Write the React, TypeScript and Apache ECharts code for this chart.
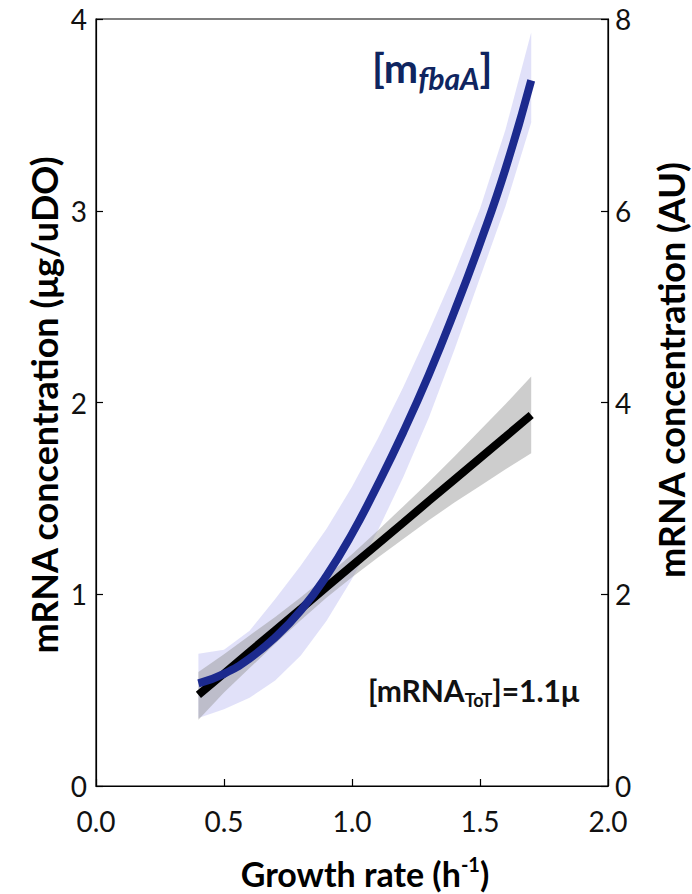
import React, { useEffect, useRef } from "react";
import * as echarts from "echarts";

// Growth rate (h^-1) sample points
const growthRate = [0.4, 0.5, 0.6, 0.7, 0.8, 0.9, 1.0, 1.1, 1.2, 1.3, 1.4, 1.5, 1.6, 1.7];

// Total mRNA (left axis, µg/uDO): fit and confidence band
const totalFit = [0.475, 0.587, 0.7, 0.812, 0.924, 1.037, 1.149, 1.261, 1.373, 1.486, 1.598, 1.71, 1.822, 1.935];
const totalLower = [0.345, 0.487, 0.615, 0.742, 0.864, 0.982, 1.089, 1.191, 1.288, 1.386, 1.478, 1.565, 1.652, 1.735];
const totalUpper = [0.595, 0.687, 0.785, 0.882, 0.984, 1.092, 1.209, 1.331, 1.458, 1.586, 1.718, 1.855, 1.992, 2.135];

// m_fbaA (right axis, AU): fit and confidence band
const fbaFit = [1.07, 1.17, 1.33, 1.55, 1.83, 2.19, 2.63, 3.14, 3.69, 4.29, 4.95, 5.66, 6.44, 7.36];
const fbaLower = [0.71, 0.8, 0.92, 1.1, 1.36, 1.72, 2.16, 2.66, 3.22, 3.84, 4.55, 5.3, 6.05, 6.92];
const fbaUpper = [1.38, 1.42, 1.62, 1.95, 2.3, 2.68, 3.12, 3.62, 4.16, 4.74, 5.35, 6.02, 6.85, 7.86];

// Tick labels
const xTickLabels = ["0.0", "0.5", "1.0", "1.5", "2.0"];
const leftTickLabels = ["0", "1", "2", "3", "4"];
const rightTickLabels = ["0", "2", "4", "6", "8"];

const FONT = "Lato, 'Open Sans', sans-serif";

function bandSeries(lower: number[], upper: number[], yAxisIndex: number, color: string, z: number) {
  return {
    type: "custom",
    coordinateSystem: "cartesian2d",
    yAxisIndex,
    z,
    silent: true,
    data: [[growthRate[0], lower[0]]],
    encode: { x: 0, y: 1 },
    renderItem: (_params: any, api: any) => {
      const pts: number[][] = [];
      for (let i = 0; i < growthRate.length; i++) pts.push(api.coord([growthRate[i], upper[i]]));
      for (let i = growthRate.length - 1; i >= 0; i--) pts.push(api.coord([growthRate[i], lower[i]]));
      return {
        type: "polygon",
        shape: { points: pts },
        style: { fill: color, stroke: "none" },
      };
    },
  };
}

export default function App() {
  const ref = useRef<HTMLDivElement>(null);
  useEffect(() => {
    if (!ref.current) return;
    const chart = echarts.init(ref.current, undefined, { renderer: "svg" });
    const axisLine = { show: true, onZero: false, lineStyle: { color: "#000", width: 1.2 } };
    const axisTick = { show: true, inside: true, length: 7, lineStyle: { color: "#000", width: 1.2 } };
    const option: any = {
      animation: false,
      backgroundColor: "#fff",
      textStyle: { fontFamily: FONT },
      grid: {
        left: 96,
        right: 84,
        top: 19,
        bottom: 108,
        show: true,
        borderColor: "#000",
        borderWidth: 1.2,
        backgroundColor: "transparent",
      },
      xAxis: {
        type: "value",
        min: 0,
        max: 2,
        interval: 0.5,
        axisLine,
        axisTick,
        splitLine: { show: false },
        axisLabel: {
          fontSize: 28,
          color: "#111",
          fontFamily: FONT,
          margin: 21,
          formatter: (v: number) => xTickLabels[Math.round(v / 0.5)] ?? "",
        },
      },
      yAxis: [
        {
          type: "value",
          min: 0,
          max: 4,
          interval: 1,
          position: "left",
          axisLine,
          axisTick,
          splitLine: { show: false },
          axisLabel: {
            fontSize: 28,
            color: "#111",
            fontFamily: FONT,
            margin: 9,
            formatter: (v: number) => leftTickLabels[Math.round(v)] ?? "",
          },
        },
        {
          type: "value",
          min: 0,
          max: 8,
          interval: 2,
          position: "right",
          axisLine,
          axisTick,
          splitLine: { show: false },
          axisLabel: {
            fontSize: 28,
            color: "#111",
            fontFamily: FONT,
            margin: 7,
            formatter: (v: number) => rightTickLabels[Math.round(v / 2)] ?? "",
          },
        },
      ],
      series: [
        bandSeries(fbaLower, fbaUpper, 1, "rgba(205,205,245,0.6)", 1),
        bandSeries(totalLower, totalUpper, 0, "rgba(150,150,150,0.48)", 2),
        {
          type: "line",
          yAxisIndex: 0,
          z: 3,
          data: growthRate.map((x, i) => [x, totalFit[i]]),
          showSymbol: false,
          symbol: "none",
          lineStyle: { color: "#000", width: 8, cap: "butt" },
          silent: true,
        },
        {
          type: "line",
          yAxisIndex: 1,
          z: 4,
          smooth: true,
          data: growthRate.map((x, i) => [x, fbaFit[i]]),
          showSymbol: false,
          symbol: "none",
          lineStyle: { color: "#1c2a8e", width: 8, cap: "butt" },
          silent: true,
        },
      ],
      graphic: [
        {
          type: "text",
          x: 44,
          y: 405,
          rotation: Math.PI / 2,
          style: {
            text: "mRNA concentration (μg/uDO)",
            font: `bold 36px ${FONT}`,
            fill: "#000",
            align: "center",
            verticalAlign: "middle",
          },
        },
        {
          type: "text",
          x: 671,
          y: 370,
          rotation: Math.PI / 2,
          style: {
            text: "mRNA concentration (AU)",
            font: `bold 36px ${FONT}`,
            fill: "#000",
            align: "center",
            verticalAlign: "middle",
          },
        },
        {
          type: "text",
          x: 365,
          y: 872,
          style: {
            text: "{a|Growth rate (h}{s|-1}{a|)}",
            align: "center",
            verticalAlign: "middle",
            rich: {
              a: { font: `bold 34px ${FONT}`, fill: "#000", verticalAlign: "bottom", lineHeight: 36 },
              s: { font: `bold 20px ${FONT}`, fill: "#000", verticalAlign: "top", lineHeight: 20 },
            },
          },
        },
        {
          type: "text",
          x: 372,
          y: 70,
          style: {
            text: "{a|[m}{s|fbaA}{a|]}",
            align: "left",
            verticalAlign: "middle",
            rich: {
              a: { font: `bold 41px ${FONT}`, fill: "#0f2560", verticalAlign: "top", lineHeight: 46 },
              s: { font: `italic bold 30px ${FONT}`, fill: "#0f2560", verticalAlign: "bottom", lineHeight: 32, padding: [26, 0, 0, 0] },
            },
          },
        },
        {
          type: "text",
          x: 368,
          y: 692,
          style: {
            text: "{a|[mRNA}{s|ToT}{a|]=1.1μ}",
            align: "left",
            verticalAlign: "middle",
            rich: {
              a: { font: `bold 30px ${FONT}`, fill: "#111", verticalAlign: "top", lineHeight: 34 },
              s: { font: `bold 18px ${FONT}`, fill: "#111", verticalAlign: "bottom", lineHeight: 20, padding: [22, 0, 0, 0] },
            },
          },
        },
      ],
    };
    chart.setOption(option);
    return () => chart.dispose();
  }, []);
  return (
    <div
      ref={ref}
      style={{ position: "absolute", left: 0, top: 0, width: 692, height: 894 }}
    />
  );
}
